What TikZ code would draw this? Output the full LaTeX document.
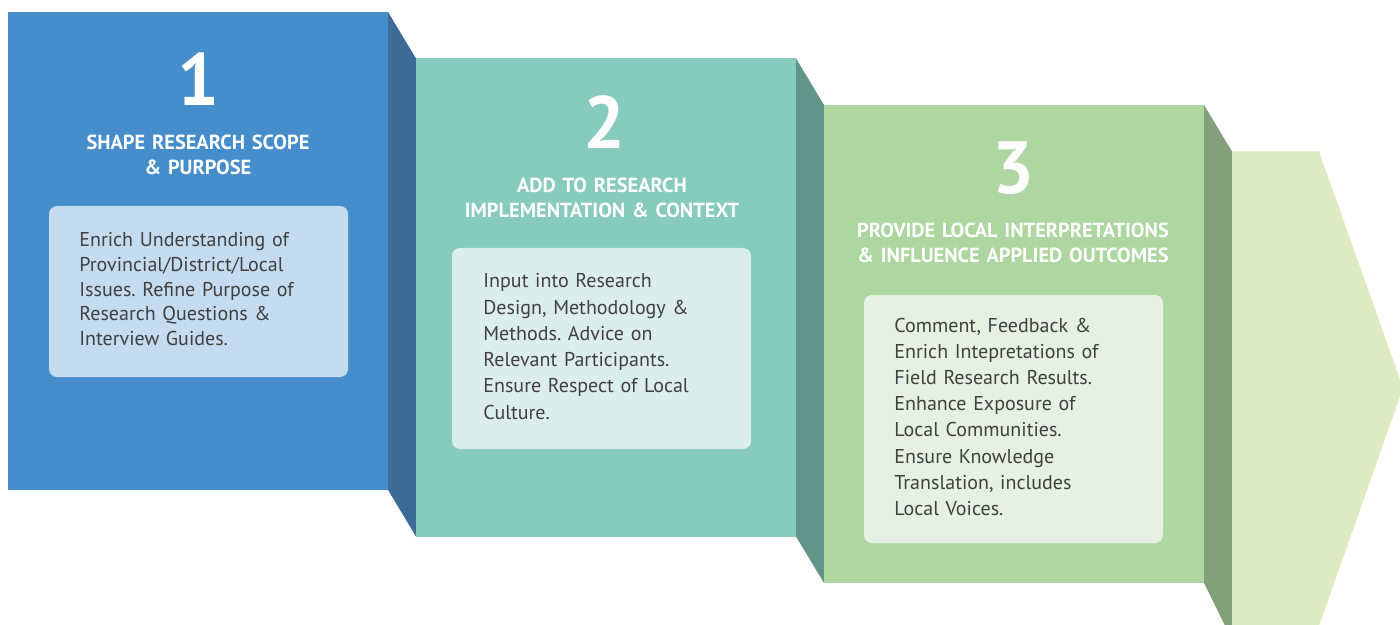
\documentclass[tikz,border=0pt]{standalone}
\usepackage{fontspec}
\setmainfont{PT Sans}
\usepackage{tikz}
\frenchspacing

\definecolor{blueA}{RGB}{70,141,203}
\definecolor{blueD}{RGB}{61,107,151}
\definecolor{blueL}{RGB}{197,219,239}
\definecolor{tealA}{RGB}{135,203,188}
\definecolor{tealD}{RGB}{98,149,138}
\definecolor{tealL}{RGB}{220,238,234}
\definecolor{greenA}{RGB}{173,214,160}
\definecolor{greenD}{RGB}{131,159,123}
\definecolor{greenL}{RGB}{230,241,227}
\definecolor{arrowC}{RGB}{222,235,194}
\definecolor{bodygray}{RGB}{64,64,64}

\tikzset{
	stepnum/.style={anchor=base, inner sep=0pt, text=white, font=\fontsize{37}{37}\selectfont\bfseries},
	steptitle/.style={anchor=base, inner sep=0pt, text=white, text width=190pt, align=center,
		font=\fontsize{10.2}{12.5}\selectfont\bfseries},
	infobox/.style={rounded corners=4pt},
	bodytext/.style={anchor=base west, inner sep=0pt, text=bodygray, text width=140pt, align=left,
		font=\fontsize{10}{#1}\selectfont}
}

\begin{document}
\begin{tikzpicture}[x=0.5pt, y=-0.5pt]
		\useasboundingbox (0, 0) rectangle (1400, 625);
		\clip (0, 0) rectangle (1400, 625);

		% folds between the steps
		\fill [blueD] (388, 12) -- (416, 58.5) -- (416, 536.5) -- (388, 490) -- cycle;
		\fill [tealD] (796, 58.5) -- (824, 105) -- (824, 583) -- (796, 536.5) -- cycle;
		\fill [greenD] (1204, 105) -- (1232, 151.5) -- (1232, 640) -- (1204, 583) -- cycle;

		% steps
		\fill [blueA] (8, 12) rectangle (388, 490);
		\fill [tealA] (416, 58.5) rectangle (796, 536.5);
		\fill [greenA] (824, 105) rectangle (1204, 583);

		% final arrow
		\fill [arrowC] (1232, 151.5) -- (1319, 151.5) -- (1403, 388) -- (1319, 626) -- (1317, 640) -- (1232, 640) -- cycle;

		% inner boxes
		\fill [infobox, blueL] (49, 206) rectangle (348, 377);
		\fill [infobox, tealL] (452, 248) rectangle (751, 449);
		\fill [infobox, greenL] (864, 295) rectangle (1163, 543);

		\node [stepnum] (num1) at (198, 106) {1};
		\node [stepnum] (num2) at (604, 149) {2};
		\node [stepnum] (num3) at (1013, 194) {3};

		\node [steptitle] (title1) at (198, 150) {SHAPE RESEARCH SCOPE\\ \& PURPOSE};
		\node [steptitle] (title2) at (602, 193) {ADD TO RESEARCH\\ IMPLEMENTATION \& CONTEXT};
		\node [steptitle] (title3) at (1013, 238) {PROVIDE LOCAL INTERPRETATIONS\\ \& INFLUENCE APPLIED OUTCOMES};

		\node [bodytext=12.3] (body1) at (79, 247) {Enrich Understanding of\\ Provincial/District/Local\\ Issues. Refine Purpose of\\ Research Questions \&\\ Interview Guides.};
		\node [bodytext=13.1] (body2) at (483, 288) {Input into Research\\ Design, Methodology \&\\ Methods. Advice on\\ Relevant Participants.\\ Ensure Respect of Local\\ Culture.};
		\node [bodytext=13.1] (body3) at (894, 332) {Comment, Feedback \&\\ Enrich Intepretations of\\ Field Research Results.\\ Enhance Exposure of\\ Local Communities.\\ Ensure Knowledge\\ Translation, includes\\ Local Voices.};
	\end{tikzpicture}
\end{document}
